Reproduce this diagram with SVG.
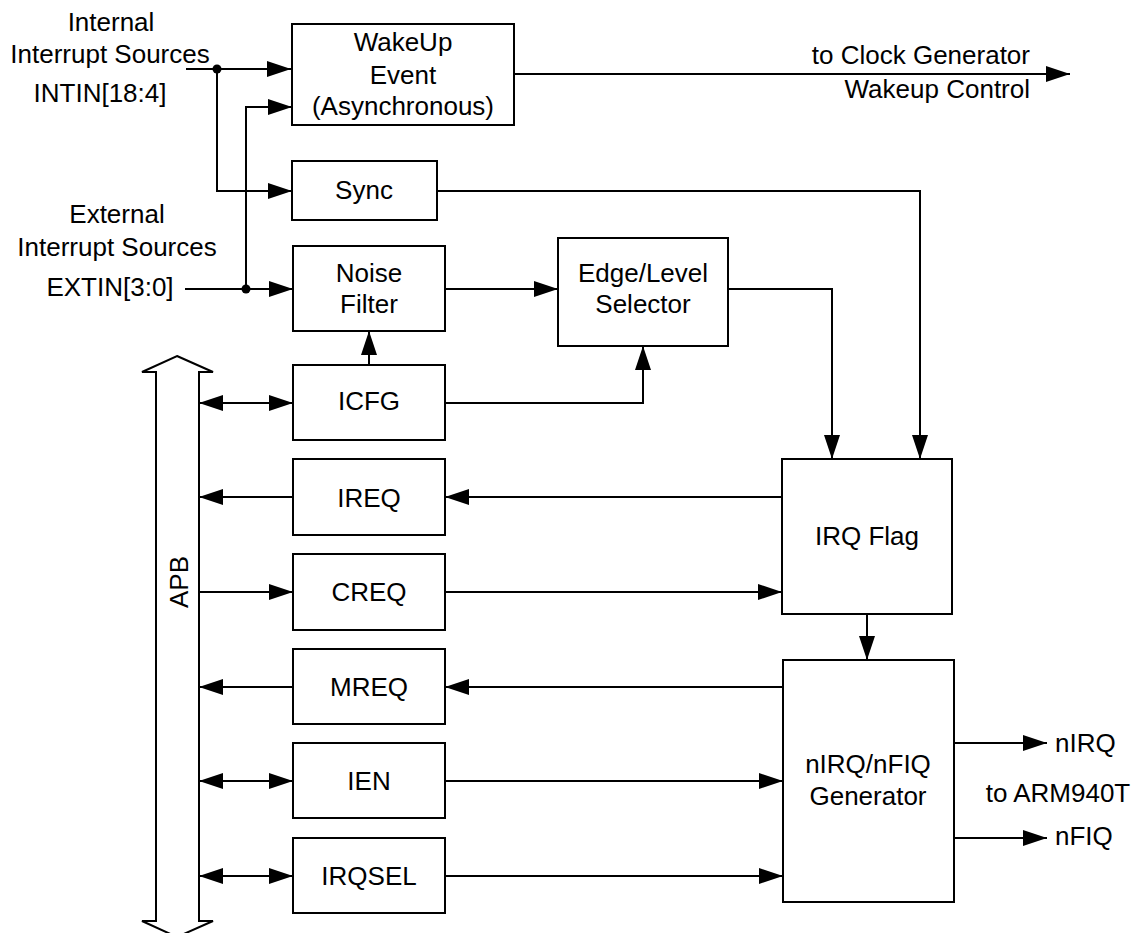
<svg xmlns="http://www.w3.org/2000/svg" width="1143" height="933" viewBox="0 0 1143 933">
<style>
.box{fill:#fff;stroke:#000;stroke-width:2}
.t{font-family:"Liberation Sans",Arial,sans-serif;font-size:26px;fill:#000;text-anchor:middle}
.l{font-family:"Liberation Sans",Arial,sans-serif;font-size:26px;fill:#000;text-anchor:middle}
.w{fill:none;stroke:#000;stroke-width:2}
.a{marker-end:url(#ah)}
.b{marker-start:url(#ah);marker-end:url(#ah)}
</style>
<defs>
<marker id="ah" markerUnits="userSpaceOnUse" markerWidth="24" markerHeight="16" refX="24" refY="8" orient="auto-start-reverse" viewBox="0 0 24 16">
<path d="M0,0 L24,8 L0,16 z" fill="#000"/>
</marker>
</defs>
<rect width="1143" height="933" fill="#fff"/>

<g id="labels">
<text class="l" x="111" y="31">Internal</text>
<text class="l" x="110" y="63">Interrupt Sources</text>
<text class="l" x="100" y="102">INTIN[18:4]</text>
<text class="l" x="117" y="223">External</text>
<text class="l" x="117" y="256">Interrupt Sources</text>
<text class="l" x="110" y="296">EXTIN[3:0]</text>
<text class="t" x="1030" y="64" style="text-anchor:end">to Clock Generator</text>
<text class="t" x="1030" y="98" style="text-anchor:end">Wakeup Control</text>
<text class="t" x="1055" y="752" style="text-anchor:start">nIRQ</text>
<text class="t" x="1058" y="802">to ARM940T</text>
<text class="t" x="1055" y="845" style="text-anchor:start">nFIQ</text>
</g>

<g id="connectors">
<path class="w a" d="M186,69 H291"/>
<path class="w a" d="M217,69 V191 H292"/>
<path class="w a" d="M185,289 H293"/>
<path class="w a" d="M246,289 V107 H292"/>
<path class="w a" d="M514,74 H1070"/>
<path class="w a" d="M437,191 H920 V459"/>
<path class="w a" d="M445,289 H558"/>
<path class="w a" d="M728,289 H832 V459"/>
<path class="w a" d="M445,403 H643 V346"/>
<path class="w a" d="M369,365 V331"/>
<path class="w b" d="M199,403 H293"/>
<path class="w a" d="M293,497 H199"/>
<path class="w a" d="M782,497 H445"/>
<path class="w a" d="M197,592 H293"/>
<path class="w a" d="M445,592 H782"/>
<path class="w a" d="M867,614 V660"/>
<path class="w a" d="M293,687 H199"/>
<path class="w a" d="M783,687 H445"/>
<path class="w b" d="M199,781 H293"/>
<path class="w a" d="M445,781 H783"/>
<path class="w b" d="M199,876 H293"/>
<path class="w a" d="M445,876 H783"/>
<path class="w a" d="M954,743 H1047"/>
<path class="w a" d="M954,838 H1047"/>
<circle cx="217" cy="69" r="4.5" fill="#000"/>
<circle cx="246" cy="289" r="4.5" fill="#000"/>
</g>

<g id="apb">
<polygon points="177,356 213,372 199,372 199,921 213,921 177,937 142,921 156,921 156,372 142,372" fill="#fff" stroke="#000" stroke-width="2"/>
<text class="t" transform="translate(188,582) rotate(-90)">APB</text>
</g>

<g id="wakeup">
<rect class="box" x="292" y="24" width="222" height="101"/>
<text class="t" x="403" y="51">WakeUp</text>
<text class="t" x="403" y="84">Event</text>
<text class="t" x="403" y="115">(Asynchronous)</text>
</g>
<g id="sync">
<rect class="box" x="292" y="161" width="145" height="59"/>
<text class="t" x="364" y="199">Sync</text>
</g>
<g id="noise">
<rect class="box" x="293" y="246" width="152" height="85"/>
<text class="t" x="369" y="282">Noise</text>
<text class="t" x="369" y="313">Filter</text>
</g>
<g id="edge">
<rect class="box" x="558" y="238" width="170" height="108"/>
<text class="t" x="643" y="282">Edge/Level</text>
<text class="t" x="643" y="313">Selector</text>
</g>
<g id="icfg">
<rect class="box" x="293" y="365" width="152" height="75"/>
<text class="t" x="369" y="410">ICFG</text>
</g>
<g id="ireq">
<rect class="box" x="293" y="459" width="152" height="76"/>
<text class="t" x="369" y="507">IREQ</text>
</g>
<g id="creq">
<rect class="box" x="293" y="554" width="152" height="76"/>
<text class="t" x="369" y="601">CREQ</text>
</g>
<g id="mreq">
<rect class="box" x="293" y="649" width="152" height="75"/>
<text class="t" x="369" y="696">MREQ</text>
</g>
<g id="ien">
<rect class="box" x="293" y="743" width="152" height="75"/>
<text class="t" x="369" y="790">IEN</text>
</g>
<g id="irqsel">
<rect class="box" x="293" y="838" width="152" height="75"/>
<text class="t" x="369" y="885">IRQSEL</text>
</g>
<g id="irqflag">
<rect class="box" x="782" y="459" width="170" height="155"/>
<text class="t" x="867" y="545">IRQ Flag</text>
</g>
<g id="nirqgen">
<rect class="box" x="783" y="660" width="171" height="242"/>
<text class="t" x="868" y="773">nIRQ/nFIQ</text>
<text class="t" x="868" y="805">Generator</text>
</g>
</svg>
